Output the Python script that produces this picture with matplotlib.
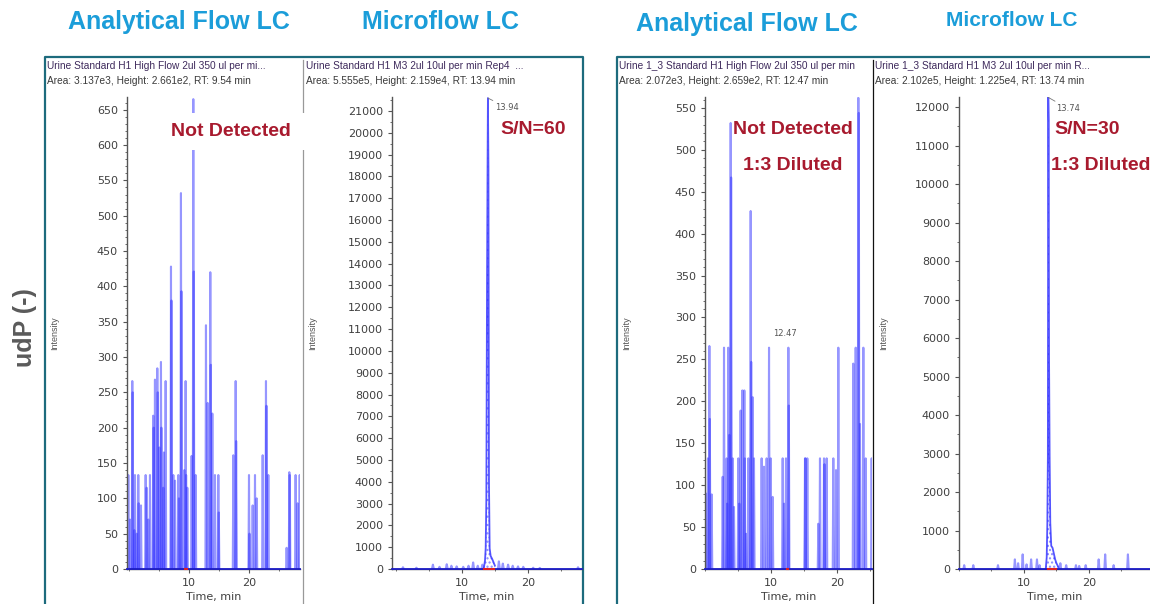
import matplotlib
matplotlib.use("Agg")
import matplotlib.pyplot as plt
from matplotlib.collections import LineCollection
from matplotlib.lines import Line2D
from matplotlib.patches import Rectangle
from matplotlib.transforms import Bbox, TransformedBbox
from matplotlib.ticker import MultipleLocator, FixedLocator

# ---- data ----
# panel 1: analytical flow, urine standard (noise spikes, counts)
p1_t = [-0.11, 0.16, 0.55, 0.62, 0.89, 1.0, 1.28, 1.55, 1.62, 2.0, 2.78, 2.94, 3.22, 3.5,
        4.05, 4.12, 4.33, 4.72, 4.8, 5.05, 5.33, 5.4, 5.72, 5.83, 6.11, 7.0, 7.08, 7.39,
        7.67, 8.22, 8.33, 8.66, 8.74, 9.22, 9.44, 9.52, 9.72, 10.44, 10.72, 10.8, 11.11,
        12.83, 13.11, 13.55, 13.63, 13.89, 14.33, 14.89, 14.97, 17.39, 17.78, 17.86, 20.0,
        20.08, 20.61, 21.0, 21.28, 22.28, 22.83, 22.91, 23.22, 26.27, 26.72, 26.8, 27.77,
        28.11, 28.45]
p1_h = [133, 70, 266, 250, 55, 133, 50, 133, 93, 90, 133, 115, 70, 133,
        217, 200, 268, 284, 250, 172, 293, 200, 115, 165, 266, 428, 380, 133,
        125, 133, 100, 532, 393, 140, 266, 133, 115, 160, 665, 421, 133,
        345, 235, 420, 289, 220, 133, 133, 80, 161, 266, 181, 133,
        50, 90, 133, 100, 161, 266, 231, 133, 30, 137, 133, 133,
        93, 133]

# panel 2: microflow, urine standard
p2_noise_t = [1.06, 3.1, 5.6, 6.6, 7.7, 8.4, 9.2, 10.2, 11.0, 11.7, 12.4, 13.1,
              15.6, 16.2, 17.0, 17.7, 18.5, 19.3, 20.8, 21.8, 27.6]
p2_noise_h = [80, 60, 200, 100, 220, 150, 120, 100, 150, 300, 150, 200,
              350, 250, 200, 150, 120, 100, 60, 50, 80]
p2_peak_t = [13.3, 13.5, 13.6, 13.7, 13.8, 13.9, 13.94, 14.02, 14.1, 14.2, 14.35, 14.6, 14.8, 15.0]
p2_peak_h = [0, 400, 950, 3200, 12700, 19400, 21590, 18400, 4000, 950, 600, 450, 300, 150]

# panel 3: analytical flow, urine 1:3
p3_t = [0.15, 0.45, 0.66, 0.73, 1.01, 2.68, 2.88, 3.28, 3.36, 3.53, 3.69, 3.89, 3.96, 4.19,
        4.39, 5.05, 5.2, 5.4, 5.66, 5.96, 6.03, 6.21, 6.57, 6.92, 7.0, 7.22, 7.42, 8.58,
        8.94, 9.34, 9.7, 9.95, 10.25, 11.77, 11.97, 12.27, 12.63, 12.7, 15.15, 15.22, 15.5,
        17.17, 17.42, 18.03, 18.1, 18.43, 19.44, 19.85, 20.2, 22.47, 22.83, 23.23, 23.3,
        23.48, 23.99, 24.34, 25.25]
p3_h = [90, 132, 266, 179, 89, 110, 264, 132, 78, 264, 160, 532, 467, 132,
        74, 132, 78, 189, 213, 213, 132, 42, 132, 427, 247, 205, 132, 132,
        122, 132, 264, 132, 86, 132, 78, 132, 264, 195, 132, 132, 132,
        54, 132, 132, 125, 132, 132, 118, 264, 245, 264, 562, 544,
        173, 264, 132, 132]

# panel 4: microflow, urine 1:3
p4_noise_t = [0.8, 2.2, 6.0, 8.6, 9.1, 9.8, 10.4, 11.1, 12.0, 12.4, 15.6, 16.5,
              18.0, 18.5, 19.5, 21.5, 22.5, 23.8, 26.0]
p4_noise_h = [100, 100, 100, 250, 150, 380, 120, 250, 250, 100, 150, 100,
              100, 80, 100, 250, 380, 100, 380]
p4_peak_t = [13.35, 13.5, 13.6, 13.68, 13.74, 13.8, 13.86, 13.95, 14.05, 14.2, 14.4, 14.6, 14.8, 15.0, 15.3]
p4_peak_h = [0, 300, 1200, 2900, 12250, 11650, 5500, 2900, 1200, 600, 550, 400, 250, 150, 50]

time_ticks = [10, 20]
titles = ["Analytical Flow LC", "Microflow LC", "Analytical Flow LC", "Microflow LC"]
headers = [
    ["Urine Standard H1 High Flow 2ul 350 ul per mi...", "Area: 3.137e3, Height: 2.661e2, RT: 9.54 min"],
    ["Urine Standard H1 M3 2ul 10ul per min Rep4  ...", "Area: 5.555e5, Height: 2.159e4, RT: 13.94 min"],
    ["Urine 1_3 Standard H1 High Flow 2ul 350 ul per min", "Area: 2.072e3, Height: 2.659e2, RT: 12.47 min"],
    ["Urine 1_3 Standard H1 M3 2ul 10ul per min R...", "Area: 2.102e5, Height: 1.225e4, RT: 13.74 min"],
]

# ---- figure ----
W, H = 1150, 604
fig = plt.figure(figsize=(11.5, 6.04), dpi=100)
fig.patch.set_facecolor("white")


def fx(x):
    return x / W


def fy(y):
    return 1 - y / H


def add_ax(l, r, t, b):
    ax = fig.add_axes([fx(l), fy(b), (r - l) / W, (b - t) / H])
    ax.set_facecolor("none")
    ax.set_zorder(2)
    for s in ["top", "right"]:
        ax.spines[s].set_visible(False)
    for s in ["left", "bottom"]:
        ax.spines[s].set_color("#555555")
        ax.spines[s].set_linewidth(1.0)
    ax.tick_params(which="both", direction="out", colors="#555555", labelcolor="#404040",
                   labelsize=8)
    ax.tick_params(which="major", length=3, width=0.8)
    ax.tick_params(which="minor", length=1.5, width=0.6)
    ax.xaxis.set_major_locator(FixedLocator(time_ticks))
    ax.xaxis.set_minor_locator(MultipleLocator(5))
    ax.set_xlabel("Time, min", fontsize=8, color="#404040", labelpad=3)
    return ax


def spikes(ax, times, heights, w=0.09):
    segs = [[(t - w, 0), (t, h), (t + w, 0)] for t, h in zip(times, heights)]
    ax.add_collection(LineCollection(segs, colors="#2f2fff", linewidths=1.5, alpha=0.5))


def baseline(ax, x0, x1):
    ax.plot([x0, x1], [0, 0], color="#1c1cc8", lw=1.3, clip_on=False, zorder=3)


def peak(ax, pt, ph, lab, off):
    ax.plot(pt, ph, color="#2b2bff", lw=1.3, alpha=0.8)
    ax.fill_between(pt, ph, 0, facecolor="none", edgecolor="#8a8aff", hatch="....", linewidth=0)
    i = ph.index(max(ph))
    ax.annotate(lab, xy=(pt[i], ph[i]), xytext=off, textcoords="offset points",
                fontsize=6, color="#555555", ha="left", va="center",
                arrowprops=dict(arrowstyle="-", color="#777777", lw=0.6, shrinkA=0, shrinkB=0))


# panel 1
ax1 = add_ax(127, 300, 97, 569)
spikes(ax1, p1_t, p1_h)
baseline(ax1, -0.33, 28.5)
ax1.plot([9.4, 9.7], [0, 0], color="#e02020", lw=1.5, clip_on=False, zorder=4)
ax1.set_xlim(-0.33, 28.5)
ax1.set_ylim(0, 668)
ax1.yaxis.set_major_locator(MultipleLocator(50))
ax1.yaxis.set_minor_locator(MultipleLocator(10))

# panel 2
ax2 = add_ax(392, 582, 97, 569)
spikes(ax2, p2_noise_t, p2_noise_h, w=0.15)
peak(ax2, p2_peak_t, p2_peak_h, "13.94", (5.5, -7))
baseline(ax2, -0.6, 28.2)
ax2.plot([13.4, 14.9], [0, 0], color="#e02020", lw=1.5, clip_on=False, zorder=4)
ax2.set_xlim(-0.6, 28.2)
ax2.set_ylim(0, 21640)
ax2.yaxis.set_major_locator(MultipleLocator(1000))
ax2.yaxis.set_minor_locator(MultipleLocator(500))

# panel 3
ax3 = add_ax(705, 872, 97, 569)
spikes(ax3, p3_t, p3_h)
baseline(ax3, 0, 25.3)
ax3.plot([12.35, 12.6], [0, 0], color="#e02020", lw=1.5, clip_on=False, zorder=4)
ax3.text(12.1, 276, "12.47", fontsize=6, color="#555555", ha="center", va="bottom")
ax3.set_xlim(0, 25.3)
ax3.set_ylim(0, 563)
ax3.yaxis.set_major_locator(MultipleLocator(50))
ax3.yaxis.set_minor_locator(MultipleLocator(10))

# panel 4
ax4 = add_ax(959, 1150, 97, 569)
spikes(ax4, p4_noise_t, p4_noise_h, w=0.12)
peak(ax4, p4_peak_t, p4_peak_h, "13.74", (5.5, -8))
baseline(ax4, 0, 29.4)
ax4.plot([13.7, 14.9], [0, 0], color="#e02020", lw=1.5, clip_on=False, zorder=4)
ax4.set_xlim(0, 29.4)
ax4.set_ylim(0, 12260)
ax4.yaxis.set_major_locator(MultipleLocator(1000))
ax4.yaxis.set_minor_locator(MultipleLocator(500))

# frames and separators
teal = "#1d6b7d"
fig.add_artist(Line2D([fx(45), fx(45), fx(583), fx(583)], [fy(606), fy(57), fy(57), fy(606)],
                      color=teal, lw=1.6, zorder=1))
fig.add_artist(Line2D([fx(617), fx(617), fx(1152)], [fy(606), fy(57), fy(57)],
                      color=teal, lw=1.6, zorder=1))
fig.add_artist(Line2D([fx(303), fx(303)], [fy(60), fy(606)], color="#999999", lw=0.9, zorder=1))
fig.add_artist(Line2D([fx(873), fx(873)], [fy(60), fy(606)], color="#111111", lw=0.9, zorder=1))

# headers (clipped to each panel)
hx = [47, 306, 619, 875]
clips = [(45, 303), (303, 582), (617, 873), (873, 1150)]
for (l1, l2), x0, (c0, c1) in zip(headers, hx, clips):
    cb = TransformedBbox(Bbox.from_extents(fx(c0), fy(90), fx(c1), fy(58)), fig.transFigure)
    for txt, yy, col in [(l1, 66, "#3e2a5c"), (l2, 81, "#3a3a3a")]:
        t = fig.text(fx(x0), fy(yy), txt, fontsize=7.3, color=col, ha="left", va="center",
                     family="Liberation Sans")
        t.set_clip_box(cb)
        t.set_clip_on(True)

# titles
for txt, x, y, fs in zip(titles, [179, 441, 747, 1012], [22, 22, 24, 21], [18, 18, 18, 15]):
    fig.text(fx(x), fy(y), txt, fontsize=fs, fontweight="bold", color="#1b9dd9",
             ha="center", va="center", family="Liberation Sans", fontstretch="condensed")

fig.text(fx(25), fy(328), "udP (-)", fontsize=18, fontweight="bold", color="#5a5a5a",
         rotation=90, ha="center", va="center", family="Liberation Sans")
for x in [55, 313, 627, 884]:
    fig.text(fx(x), fy(333), "Intensity", fontsize=6.5, color="#555555", rotation=90,
             ha="center", va="center", family="Liberation Sans")

# result annotations
red = "#a81a2e"
fig.add_artist(Rectangle((fx(165), fy(150)), fx(306) - fx(165), (150 - 113) / H,
                         transform=fig.transFigure, facecolor="white", edgecolor="none",
                         zorder=2.5))
notes = [("Not Detected", 231, 132, "center"), ("S/N=60", 533, 129, "center"),
         ("Not Detected", 793, 130, "center"), ("1:3 Diluted", 793, 165, "center"),
         ("S/N=30", 1087, 130, "center"), ("1:3 Diluted", 1051, 165, "left")]
for txt, x, y, ha in notes:
    fig.text(fx(x), fy(y), txt, fontsize=14, fontweight="bold", color=red, ha=ha,
             va="center", family="Liberation Sans", zorder=3)

fig.savefig("out.png", dpi=100)
